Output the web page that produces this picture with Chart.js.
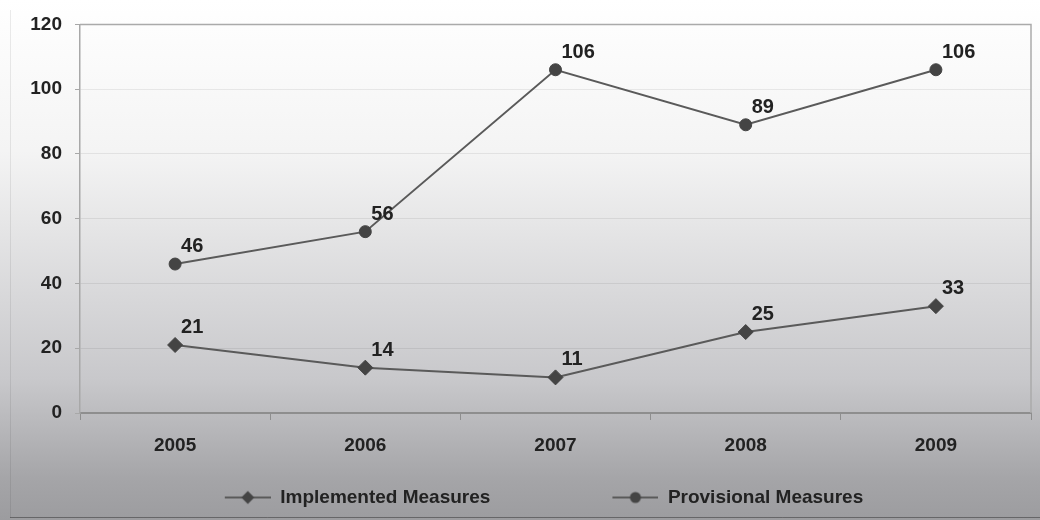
<!DOCTYPE html>
<html>
<head>
<meta charset="utf-8">
<title>Implemented and Provisional Measures, 2005–2009</title>
<script src="https://cdn.jsdelivr.net/npm/chart.js@4/dist/chart.umd.min.js"></script>
<style>
  html, body { margin: 0; padding: 0; background: #ffffff; }
  #wrap { width: 1040px; height: 520px; position: relative; }
</style>
</head>
<body>
<div id="wrap"><canvas id="chart" width="1040" height="520"></canvas></div>
<script>
// Categories and series
const years = ['2005', '2006', '2007', '2008', '2009'];
const implementedMeasures = [21, 14, 11, 25, 33];
const provisionalMeasures = [46, 56, 106, 89, 106];
const yTickValues = [0, 20, 40, 60, 80, 100, 120];
const seriesNames = ['Implemented Measures', 'Provisional Measures'];

const FONT = "'Liberation Sans', Arial, Helvetica, sans-serif";
const TEXT = '#222222';
const LINE = '#5a5a5a';
const MARK = '#444444';

// Legend swatch: a short line with the series marker in its middle,
// preceded by transparent space that spreads the two entries apart.
const SWATCH_GAP = 47;
const SWATCH_LINE = 46;
function makeSwatch(style) {
  const c = document.createElement('canvas');
  c.width = SWATCH_GAP + SWATCH_LINE;
  c.height = 16;
  const g = c.getContext('2d');
  const y = 8;
  g.strokeStyle = LINE;
  g.lineWidth = 2;
  g.beginPath();
  g.moveTo(SWATCH_GAP, y);
  g.lineTo(SWATCH_GAP + SWATCH_LINE, y);
  g.stroke();
  const cx = SWATCH_GAP + SWATCH_LINE / 2;
  g.fillStyle = MARK;
  g.beginPath();
  if (style === 'rectRot') {
    g.moveTo(cx, y - 6.5);
    g.lineTo(cx + 6.5, y);
    g.lineTo(cx, y + 6.5);
    g.lineTo(cx - 6.5, y);
    g.closePath();
  } else {
    g.arc(cx, y, 5.5, 0, Math.PI * 2);
  }
  g.fill();
  return c;
}
const swatches = [makeSwatch('rectRot'), makeSwatch('circle')];

// Vertical white-to-grey wash behind the whole chart, plus the outer frame edges
const backdrop = {
  id: 'backdrop',
  beforeDraw(chart) {
    const { ctx, width, height } = chart;
    const grad = ctx.createLinearGradient(0, 0, 0, height);
    grad.addColorStop(0, '#ffffff');
    grad.addColorStop(0.29, '#f4f4f4');
    grad.addColorStop(0.73, '#c8c8cb');
    grad.addColorStop(0.92, '#a5a5a8');
    grad.addColorStop(1, '#9c9c9f');
    ctx.save();
    ctx.fillStyle = grad;
    ctx.fillRect(0, 0, width, height);
    ctx.strokeStyle = 'rgba(0,0,0,0.08)';
    ctx.lineWidth = 1;
    ctx.beginPath();
    ctx.moveTo(10.5, 10);
    ctx.lineTo(10.5, height - 2.5);
    ctx.stroke();
    ctx.strokeStyle = 'rgba(0,0,0,0.35)';
    ctx.beginPath();
    ctx.moveTo(10, height - 2.5);
    ctx.lineTo(width, height - 2.5);
    ctx.stroke();
    ctx.restore();
  }
};

// Top and right edges of the plot area
const plotFrame = {
  id: 'plotFrame',
  beforeDatasetsDraw(chart) {
    const { ctx, chartArea: a } = chart;
    ctx.save();
    ctx.strokeStyle = '#aaaaaa';
    ctx.lineWidth = 1.5;
    ctx.beginPath();
    ctx.moveTo(a.left, a.top);
    ctx.lineTo(a.right, a.top);
    ctx.lineTo(a.right, a.bottom);
    ctx.stroke();
    ctx.restore();
  }
};

// Value labels above and to the right of each point
const valueLabels = {
  id: 'valueLabels',
  afterDatasetsDraw(chart) {
    const { ctx } = chart;
    ctx.save();
    ctx.font = 'bold 20px ' + FONT;
    ctx.fillStyle = TEXT;
    ctx.textAlign = 'left';
    ctx.textBaseline = 'alphabetic';
    chart.data.datasets.forEach((ds, di) => {
      const meta = chart.getDatasetMeta(di);
      meta.data.forEach((pt, i) => {
        ctx.fillText(String(ds.data[i]), pt.x + 6, pt.y - 12);
      });
    });
    ctx.restore();
  }
};

new Chart(document.getElementById('chart'), {
  type: 'line',
  data: {
    labels: years,
    datasets: [
      {
        label: seriesNames[0],
        data: implementedMeasures,
        borderColor: LINE,
        borderWidth: 2,
        tension: 0,
        pointStyle: 'rectRot',
        pointRadius: 7.5,
        pointBackgroundColor: MARK,
        pointBorderColor: MARK,
        pointBorderWidth: 1
      },
      {
        label: seriesNames[1],
        data: provisionalMeasures,
        borderColor: LINE,
        borderWidth: 2,
        tension: 0,
        pointStyle: 'circle',
        pointRadius: 6,
        pointBackgroundColor: MARK,
        pointBorderColor: MARK,
        pointBorderWidth: 1
      }
    ]
  },
  options: {
    responsive: false,
    animation: false,
    devicePixelRatio: 1,
    layout: { padding: { left: 10, right: 9, top: 22, bottom: 3 } },
    scales: {
      x: {
        offset: true,
        grid: {
          offset: true,
          drawOnChartArea: false,
          drawTicks: true,
          tickLength: 7,
          tickColor: '#8e8e8e',
          tickWidth: 1
        },
        border: { color: '#8e8e8e', width: 2 },
        ticks: {
          color: TEXT,
          font: { family: FONT, size: 19, weight: 'bold' },
          // mirrored labels are not clipped to the (zero-height) axis box,
          // so they can sit in the band above the legend
          mirror: true,
          padding: -44,
          maxRotation: 0
        },
        afterFit(scale) { scale.height = 0; }
      },
      y: {
        min: 0,
        max: 120,
        afterBuildTicks(scale) {
          scale.ticks = yTickValues.map(v => ({ value: v }));
        },
        grid: {
          color: 'rgba(0,0,0,0.07)',
          tickColor: '#a8a8a8',
          tickLength: 5,
          lineWidth: 1
        },
        border: { color: '#a8a8a8', width: 1.5 },
        ticks: {
          color: TEXT,
          font: { family: FONT, size: 19, weight: 'bold' },
          padding: 13
        },
        afterFit(scale) { scale.width = 70; }
      }
    },
    plugins: {
      tooltip: { enabled: false },
      legend: {
        position: 'bottom',
        align: 'center',
        labels: {
          usePointStyle: true,
          pointStyleWidth: SWATCH_GAP + SWATCH_LINE,
          padding: 75,
          color: TEXT,
          font: { family: FONT, size: 19, weight: 'bold' },
          generateLabels(chart) {
            return chart.data.datasets.map((ds, i) => ({
              text: ds.label,
              pointStyle: swatches[i],
              fillStyle: MARK,
              strokeStyle: MARK,
              lineWidth: 0,
              hidden: false,
              datasetIndex: i,
              fontColor: TEXT
            }));
          }
        }
      }
    }
  },
  plugins: [backdrop, plotFrame, valueLabels]
});
</script>
</body>
</html>
